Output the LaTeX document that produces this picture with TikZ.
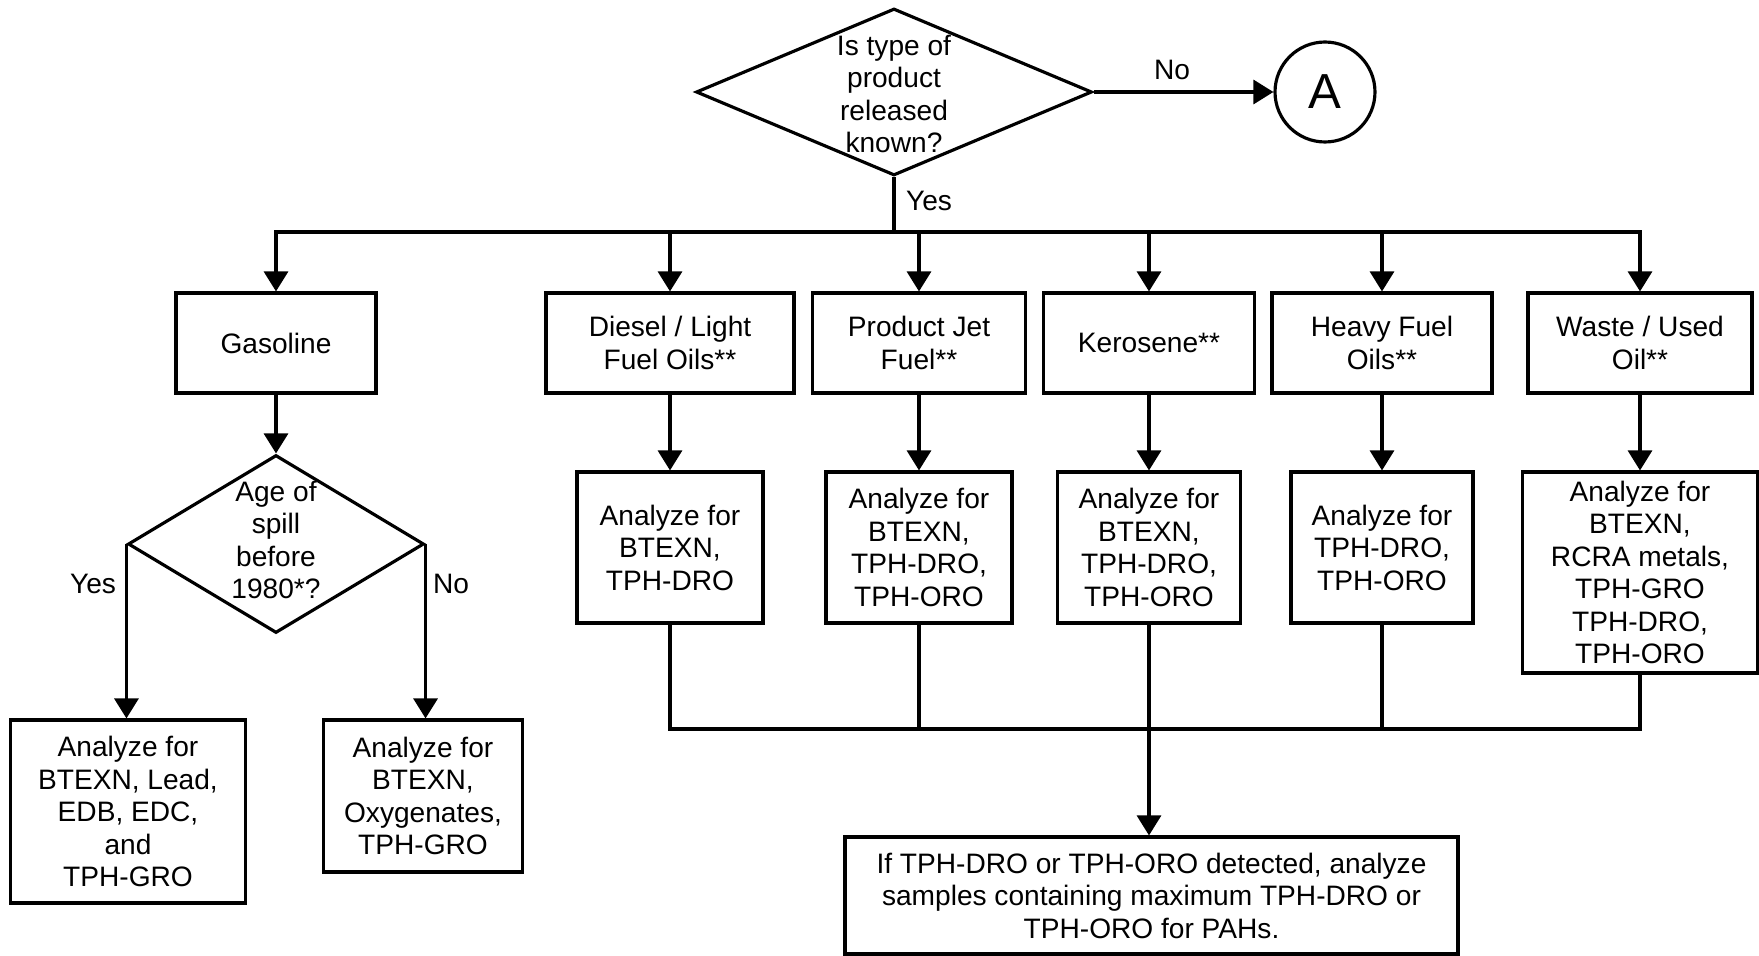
\documentclass[tikz,border=0pt]{standalone}
\usepackage{fontspec}
\setmainfont{Liberation Sans}
\usetikzlibrary{shapes.geometric, arrows.meta}

\begin{document}
\begin{tikzpicture}[x=0.02cm, y=-0.02cm,
        every node/.style={font=\fontsize{16}{18.5}\selectfont},
        box/.style={draw, line width=1.8pt, align=center, inner sep=0pt},
        decision/.style={draw, diamond, line width=1.8pt, inner sep=0pt},
        link/.style={line width=1.8pt},
        arr/.style={link, -{Triangle[length=0.4cm, width=0.48cm]}}]
        \useasboundingbox (0,0) rectangle (1759,956);

        % question on top
        \node[decision, minimum width=7.92cm, minimum height=3.34cm] (q1) at (894,92) {};
        \node[align=center] (q1txt) at (894,94) {Is type of\\product\\released\\known?};
        \node[draw, circle, line width=1.8pt, minimum size=2cm, inner sep=0pt,
            font=\fontsize{28}{32}\selectfont] (A) at (1325,92) {A};
        \node (no1) at (1172,70) {No};
        \node (yes1) at (929,201) {Yes};
        \coordinate (bus1) at (894,232);

        % products
        \node[box, minimum width=4cm, minimum height=2cm] (gas) at (276,343) {Gasoline};
        \node[box, minimum width=4.96cm, minimum height=2cm] (die) at (670,343) {Diesel / Light\\Fuel Oils**};
        \node[box, minimum width=4.26cm, minimum height=2cm] (jet) at (919,343) {Product Jet\\Fuel**};
        \node[box, minimum width=4.22cm, minimum height=2cm] (ker) at (1149,343) {Kerosene**};
        \node[box, minimum width=4.4cm, minimum height=2cm] (hea) at (1382,343) {Heavy Fuel\\Oils**};
        \node[box, minimum width=4.48cm, minimum height=2cm] (was) at (1640,343) {Waste / Used\\Oil**};

        % analyses
        \node[box, minimum width=3.72cm, minimum height=3.02cm] (dieA) at (670,547.5) {Analyze for\\BTEXN,\\TPH-DRO};
        \node[box, minimum width=3.72cm, minimum height=3.02cm] (jetA) at (919,547.5) {Analyze for\\BTEXN,\\TPH-DRO,\\TPH-ORO};
        \node[box, minimum width=3.66cm, minimum height=3.02cm] (kerA) at (1149,547.5) {Analyze for\\BTEXN,\\TPH-DRO,\\TPH-ORO};
        \node[box, minimum width=3.64cm, minimum height=3.02cm] (heaA) at (1382,547.5) {Analyze for\\TPH-DRO,\\TPH-ORO};
        \node[box, minimum width=4.7cm, minimum height=4.02cm] (wasA) at (1640,572.5) {Analyze for\\BTEXN,\\RCRA metals,\\TPH-GRO\\TPH-DRO,\\TPH-ORO};

        % gasoline branch
        \node[decision, minimum width=5.92cm, minimum height=3.56cm] (q2) at (276,544) {};
        \node[align=center] (q2txt) at (276,540) {Age of\\spill\\before\\1980*?};
        \node (yes2) at (93,584) {Yes};
        \node (no2) at (451,584) {No};
        \node[box, minimum width=4.7cm, minimum height=3.66cm] (yesA) at (128,811.5) {Analyze for\\BTEXN, Lead,\\EDB, EDC,\\and\\TPH-GRO};
        \node[box, minimum width=3.98cm, minimum height=3.04cm] (noA) at (423,796) {Analyze for\\BTEXN,\\Oxygenates,\\TPH-GRO};

        % PAH step
        \coordinate (bus2) at (1149,729);
        \node[box, minimum width=12.26cm, minimum height=2.34cm] (pah) at (1151.5,895.5) {If TPH-DRO or TPH-ORO detected, analyze\\samples containing maximum TPH-DRO or\\TPH-ORO for PAHs.};

        \draw[arr] (q1.east) -- (A.west);
        \draw[link] (q1.south) -- (bus1);
        \foreach \b in {gas, die, jet, ker, hea, was}
            \draw[arr] (bus1) -| (\b.north);
        \foreach \b in {die, jet, ker, hea, was}
            \draw[arr] (\b.south) -- (\b A.north);
        \foreach \b in {dieA, jetA, kerA, heaA, wasA}
            \draw[link] (\b.south) |- (bus2);
        \draw[arr] (bus2) -- (bus2 |- pah.north);

        \draw[arr] (gas.south) -- (q2.north);
        \draw[arr] (q2.west) -- (q2.west |- yesA.north);
        \draw[arr] (q2.east) -- (q2.east |- noA.north);
\end{tikzpicture}
\end{document}
